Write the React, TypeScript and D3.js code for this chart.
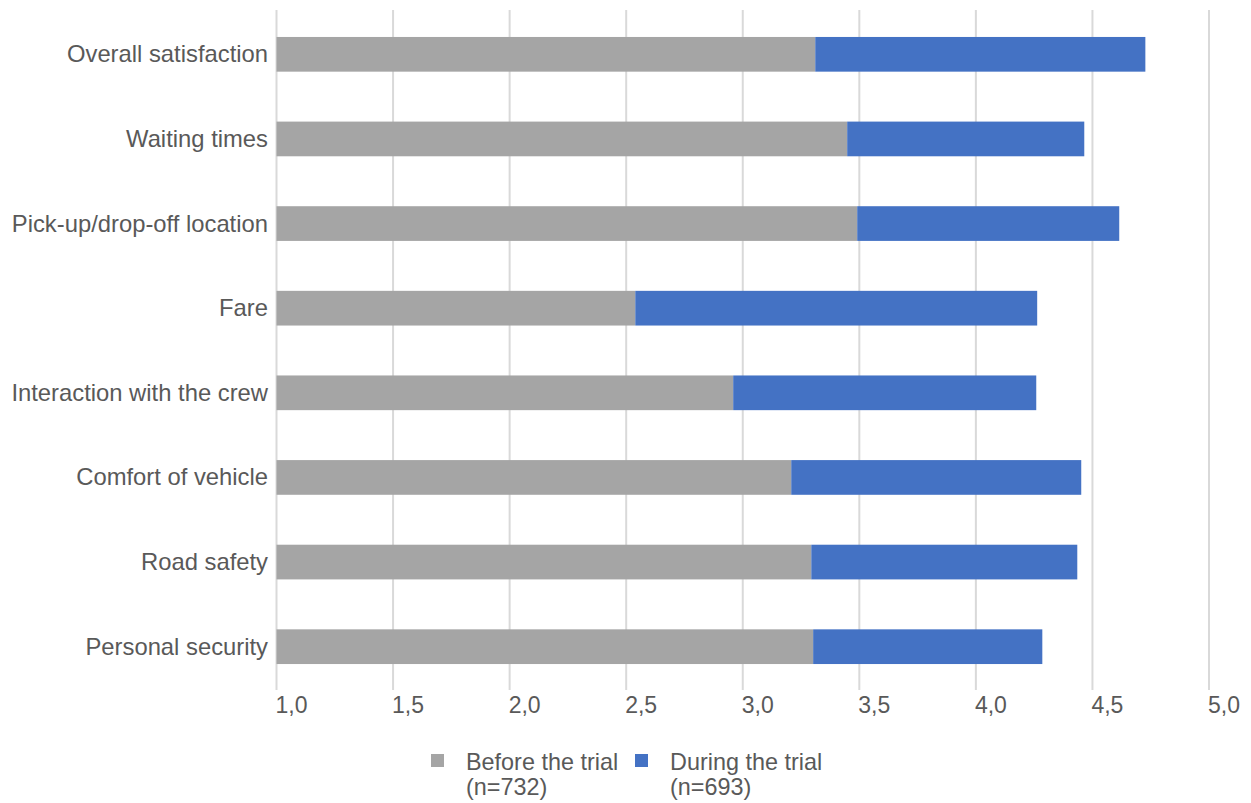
import React from "react";
import * as d3 from "d3";

const categories = [
  "Overall satisfaction",
  "Waiting times",
  "Pick-up/drop-off location",
  "Fare",
  "Interaction with the crew",
  "Comfort of vehicle",
  "Road safety",
  "Personal security",
];
const beforeValues = [3.311, 3.448, 3.491, 2.539, 2.959, 3.208, 3.294, 3.302];
const duringValues = [4.727, 4.465, 4.615, 4.263, 4.259, 4.452, 4.435, 4.285];
const tickValues = [1.0, 1.5, 2.0, 2.5, 3.0, 3.5, 4.0, 4.5, 5.0];
const seriesNames = [
  ["Before the trial", "(n=732)"],
  ["During the trial", "(n=693)"],
];
const colors = ["#a5a5a5", "#4472c4"];

const W = 1251;
const H = 803;
const FONT = "'Liberation Sans', Arial, sans-serif";
const TEXT = "#595959";

export default function App() {
  const x = d3.scaleLinear().domain([1, 5]).range([276.5, 1209]);
  const y = d3
    .scaleBand<string>()
    .domain(categories)
    .range([12, 689])
    .paddingInner(0.59)
    .paddingOuter(0.295);
  const bh = y.bandwidth();

  return (
    <svg
      width={W}
      height={H}
      style={{ position: "absolute", left: 0, top: 0, background: "#fff" }}
      fontFamily={FONT}
    >
      {tickValues.map((t) => (
        <line
          key={"g" + t}
          x1={x(t)}
          x2={x(t)}
          y1={10}
          y2={690}
          stroke="#d9d9d9"
          strokeWidth={2}
        />
      ))}
      {categories.map((c, i) => (
        <g key={c}>
          <rect
            x={x(1)}
            y={y(c)}
            width={x(beforeValues[i]) - x(1)}
            height={bh}
            fill={colors[0]}
          />
          <rect
            x={x(beforeValues[i])}
            y={y(c)}
            width={x(duringValues[i]) - x(beforeValues[i])}
            height={bh}
            fill={colors[1]}
          />
          <text
            x={268}
            y={(y(c) as number) + bh / 2 - 0.5}
            textAnchor="end"
            dominantBaseline="central"
            fontSize={23.8}
            fill={TEXT}
          >
            {c}
          </text>
        </g>
      ))}
      {tickValues.map((t) => (
        <text
          key={"t" + t}
          x={x(t) - 1}
          y={713}
          fontSize={23}
          fill={TEXT}
        >
          {d3.format(".1f")(t).replace(".", ",")}
        </text>
      ))}
      {seriesNames.map((s, i) => {
        const sx = [431, 635][i];
        return (
          <g key={s[0]}>
            <rect x={sx} y={754} width={13} height={13} fill={colors[i]} />
            <text x={sx + 35} y={770} fontSize={23.4} fill={TEXT}>
              {s[0]}
            </text>
            <text x={sx + 35} y={795} fontSize={23.4} fill={TEXT}>
              {s[1]}
            </text>
          </g>
        );
      })}
    </svg>
  );
}
